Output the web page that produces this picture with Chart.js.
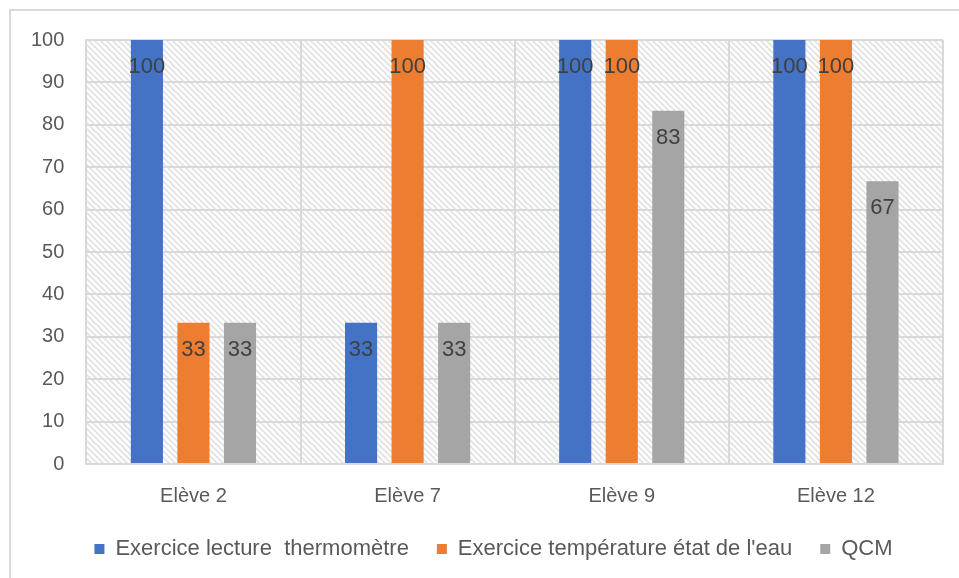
<!DOCTYPE html>
<html>
<head>
<meta charset="utf-8">
<script src="https://cdn.jsdelivr.net/npm/chart.js@4/dist/chart.umd.min.js"></script>
<style>
  html, body { margin: 0; padding: 0; background: #fff; }
  #wrap { position: relative; width: 959px; height: 578px; }
  #frame { position: absolute; left: 9px; top: 9px; width: 960px; height: 580px;
           border-left: 2px solid #d9d9d9; border-top: 2px solid #d9d9d9; box-sizing: border-box; }
  canvas { position: absolute; left: 0; top: 0; }
</style>
</head>
<body>
<div id="wrap">
  <div id="frame"></div>
  <canvas id="chart" width="959" height="578"></canvas>
</div>
<script>
// ========== DATA ==========
const categories = ['Elève 2', 'Elève 7', 'Elève 9', 'Elève 12'];
const seriesNames = ['Exercice lecture  thermomètre', "Exercice température état de l'eau", 'QCM'];
const lectureThermo = [100, 33.33, 100, 100];
const temperatureEau = [33.33, 100, 100, 100];
const qcm = [33.33, 33.33, 83.33, 66.67];
const seriesColors = ['#4472C4', '#ED7D31', '#A5A5A5'];
const yTicks = [0, 10, 20, 30, 40, 50, 60, 70, 80, 90, 100];

const GRID = '#d9d9d9';
const TEXT = '#595959';
const FONT = "'Liberation Sans', Arial, sans-serif";

// hatched plot background (wide downward diagonal)
function makeHatch() {
    const c = document.createElement('canvas');
    c.width = 6; c.height = 6;
    const g = c.getContext('2d');
    g.fillStyle = '#fff';
    g.fillRect(0, 0, 6, 6);
    g.strokeStyle = '#e2e2e2';
    g.lineWidth = 1.8;
    g.beginPath();
    g.moveTo(0, 0); g.lineTo(6, 6);
    g.moveTo(-3, 3); g.lineTo(3, 9);
    g.moveTo(3, -3); g.lineTo(9, 3);
    g.stroke();
    return c;
}

const hatchBg = {
    id: 'hatchBg',
    beforeDraw(chart) {
        const { ctx, chartArea: a } = chart;
        ctx.save();
        ctx.fillStyle = ctx.createPattern(makeHatch(), 'repeat');
        ctx.fillRect(a.left, a.top, a.right - a.left, a.bottom - a.top);
        ctx.restore();
    }
};

// labels "inside end" like Excel
const barLabels = {
    id: 'barLabels',
    afterDatasetsDraw(chart) {
        const ctx = chart.ctx;
        ctx.save();
        ctx.font = '22px ' + FONT;
        ctx.fillStyle = '#404040';
        ctx.textAlign = 'center';
        ctx.textBaseline = 'middle';
        chart.data.datasets.forEach((ds, i) => {
            chart.getDatasetMeta(i).data.forEach((bar, j) => {
                ctx.fillText(Math.round(ds.data[j]), bar.x, bar.y + 27);
            });
        });
        ctx.restore();
    }
};

// move the legend box where Excel puts it
const legendPlace = {
    id: 'legendPlace',
    afterLayout(chart) {
        const lg = chart.legend;
        lg.left += 17.5; lg.right += 17.5;
        lg.top = 510; lg.bottom = 578;
        lg.height = lg.bottom - lg.top;
    }
};

const datasets = [lectureThermo, temperatureEau, qcm].map((d, i) => ({
    label: seriesNames[i],
    data: d,
    backgroundColor: seriesColors[i],
    borderWidth: 0,
    categoryPercentage: 0.652,
    barPercentage: 0.69
}));

new Chart(document.getElementById('chart'), {
    type: 'bar',
    data: { labels: categories, datasets: datasets },
    plugins: [hatchBg, barLabels, legendPlace],
    options: {
        responsive: false,
        animation: false,
        devicePixelRatio: 1,
        layout: { padding: { left: 9, right: 16, top: 40, bottom: 10 } },
        plugins: {
            legend: {
                position: 'bottom',
                maxHeight: 40,
                labels: {
                    boxWidth: 10, boxHeight: 10, padding: 28,
                    color: TEXT, font: { family: FONT, size: 22 }
                }
            },
            tooltip: { enabled: false }
        },
        scales: {
            x: {
                grid: { color: GRID, lineWidth: 2, drawTicks: false, offset: true },
                border: { color: GRID, width: 2 },
                ticks: { color: TEXT, font: { family: FONT, size: 20 }, padding: 20 }
            },
            y: {
                min: 0, max: 100,
                afterBuildTicks(scale) { scale.ticks = yTicks.map(v => ({ value: v })); },
                grid: { color: GRID, lineWidth: 2, drawTicks: false },
                border: { color: GRID, width: 2 },
                ticks: { color: TEXT, font: { family: FONT, size: 20 }, padding: 22 }
            }
        }
    }
});
</script>
</body>
</html>
